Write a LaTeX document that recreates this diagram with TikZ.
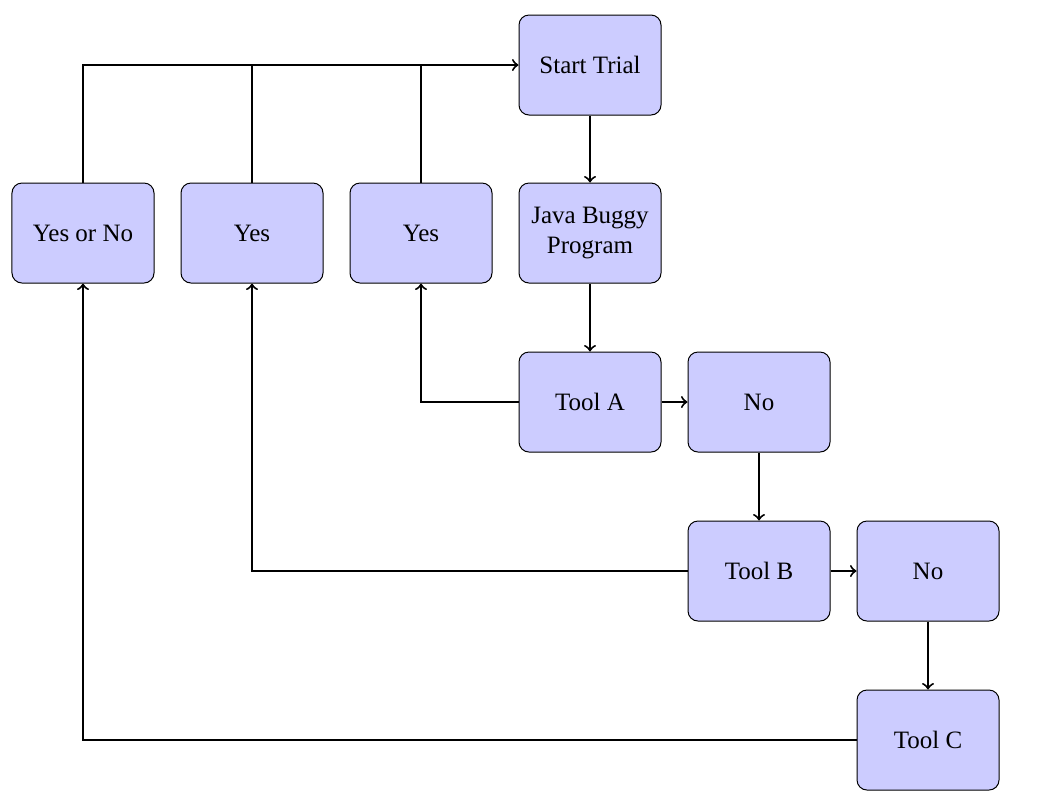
\documentclass[tikz,border=0pt]{standalone}
\usepackage{fontspec}
\setmainfont{Liberation Serif}
\begin{document}
\begin{tikzpicture}[x=0.4pt,y=-0.4pt,
  box/.style={draw=black,fill=blue!20,rounded corners=4pt,minimum width=56.8pt,minimum height=40pt,align=center,inner sep=2pt,font=\fontsize{10}{12}\selectfont},
  conn/.style={thick}]
\useasboundingbox (0,0) rectangle (1039,802);
\node[box] (start) at (590,65) {Start Trial};
\node[box] (java) at (590,233) {Java Buggy\\Program};
\node[box] (toolA) at (590,402) {Tool A};
\node[box] (noA) at (759,402) {No};
\node[box] (toolB) at (759,571) {Tool B};
\node[box] (noB) at (928,571) {No};
\node[box] (toolC) at (928,740) {Tool C};
\node[box] (yes1) at (421,233) {Yes};
\node[box] (yes2) at (252,233) {Yes};
\node[box] (yesno) at (83,233) {Yes or No};
\draw[conn,->] (yesno.north) |- (start.west);
\draw[conn] (yes2.north) -- (yes2.north |- start.west);
\draw[conn] (yes1.north) -- (yes1.north |- start.west);
\draw[conn,->] (start) -- (java);
\draw[conn,->] (java) -- (toolA);
\draw[conn,->] (toolA.west) -| (yes1.south);
\draw[conn,->] (toolA) -- (noA);
\draw[conn,->] (noA) -- (toolB);
\draw[conn,->] (toolB.west) -| (yes2.south);
\draw[conn,->] (toolB) -- (noB);
\draw[conn,->] (noB) -- (toolC);
\draw[conn,->] (toolC.west) -| (yesno.south);
\end{tikzpicture}
\end{document}
